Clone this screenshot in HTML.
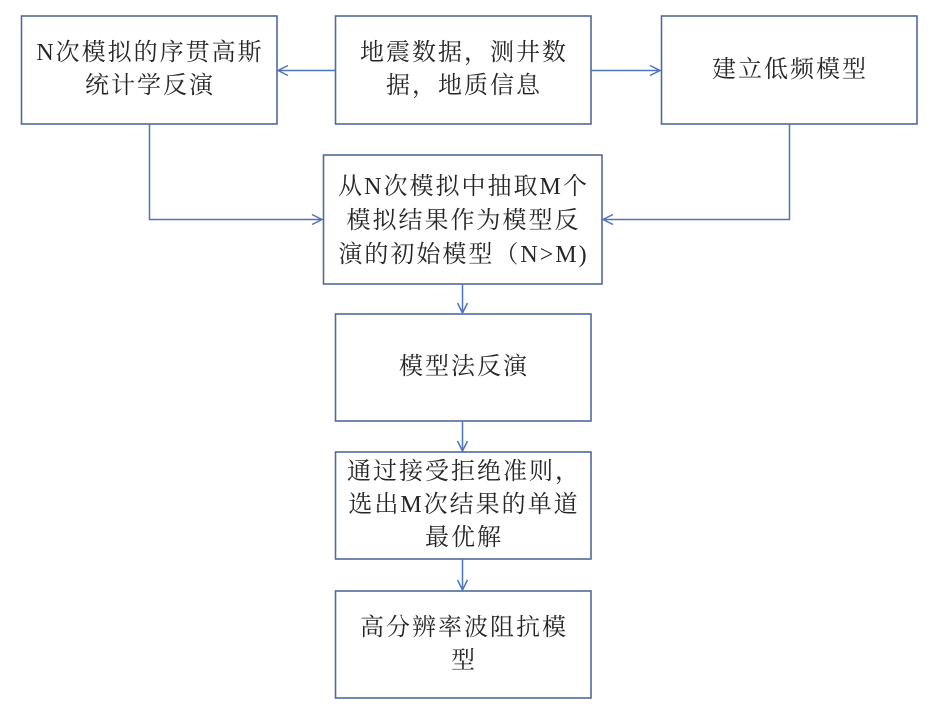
<!DOCTYPE html>
<html>
<head>
<meta charset="utf-8">
<style>
  html, body { margin:0; padding:0; background:#fff; }
  body { width:947px; height:704px; position:relative; overflow:hidden; }
  svg { position:absolute; left:0; top:0; }
  .t {
    position:absolute;
    display:flex; align-items:center; justify-content:center;
    text-align:center;
    font-family:"Liberation Serif","Noto Serif CJK SC",serif;
    font-size:24px;
    letter-spacing:2px;
    line-height:33px;
    color:#262626;
    padding-left:2px;
    box-sizing:border-box;
  }
</style>
</head>
<body>
<svg width="947" height="704" viewBox="0 0 947 704">
  <g fill="none" stroke="#53699c" stroke-width="1.6">
    <rect x="21.5" y="16" width="255.5" height="108"/>
    <rect x="335.5" y="16" width="255.5" height="108"/>
    <rect x="661.5" y="16" width="255.5" height="108"/>
    <rect x="323.5" y="155" width="278.5" height="129"/>
    <rect x="335.5" y="314" width="255.5" height="107"/>
    <rect x="335.5" y="452" width="255.5" height="107"/>
    <rect x="335.5" y="591" width="255.5" height="107"/>
  </g>
  <g fill="none" stroke="#4f74bd" stroke-width="1.5">
    <!-- B2 -> B1 -->
    <line x1="335" y1="70.5" x2="278" y2="70.5"/>
    <polyline points="288,65.5 278,70.5 288,75.5"/>
    <!-- B2 -> B3 -->
    <line x1="591" y1="70.5" x2="660" y2="70.5"/>
    <polyline points="650,65.5 660,70.5 650,75.5"/>
    <!-- B1 -> B4 -->
    <polyline points="149.5,124 149.5,219.5 322,219.5"/>
    <polyline points="312,214.5 322,219.5 312,224.5"/>
    <!-- B3 -> B4 -->
    <polyline points="789.5,124 789.5,219.5 603,219.5"/>
    <polyline points="613,214.5 603,219.5 613,224.5"/>
    <!-- B4 -> B5 -->
    <line x1="462.5" y1="284" x2="462.5" y2="313"/>
    <polyline points="457.5,303 462.5,313 467.5,303"/>
    <!-- B5 -> B6 -->
    <line x1="462.5" y1="421" x2="462.5" y2="451"/>
    <polyline points="457.5,441 462.5,451 467.5,441"/>
    <!-- B6 -> B7 -->
    <line x1="462.5" y1="559" x2="462.5" y2="590"/>
    <polyline points="457.5,580 462.5,590 467.5,580"/>
  </g>
</svg>

<div class="t" style="left:21px;top:16px;width:256px;height:108px;">N次模拟的序贯高斯<br>统计学反演</div>
<div class="t" style="left:335px;top:16px;width:256px;height:108px;">地震数据，测井数<br>据，地质信息</div>
<div class="t" style="left:661px;top:16px;width:256px;height:108px;">建立低频模型</div>
<div class="t" style="left:323px;top:155px;width:279px;height:131px;line-height:34px;">从N次模拟中抽取M个<br>模拟结果作为模型反<br>演的初始模型（N&gt;M)</div>
<div class="t" style="left:335px;top:314px;width:256px;height:107px;">模型法反演</div>
<div class="t" style="left:335px;top:452px;width:256px;height:107px;">通过接受拒绝准则，<br>选出M次结果的单道<br>最优解</div>
<div class="t" style="left:335px;top:591px;width:256px;height:107px;">高分辨率波阻抗模<br>型</div>
</body>
</html>
